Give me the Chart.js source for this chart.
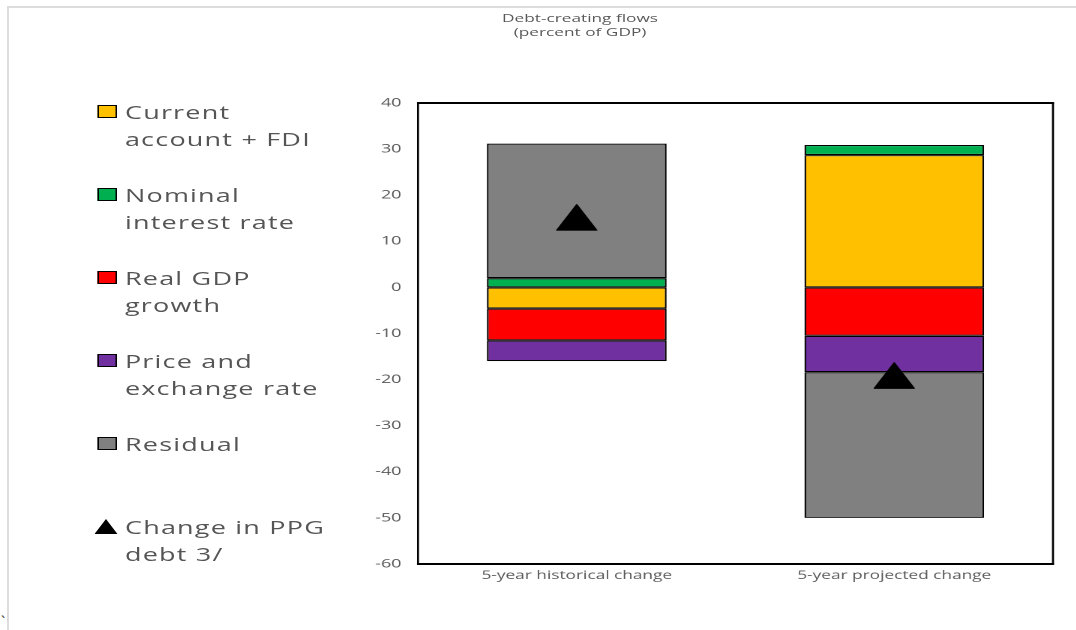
<!DOCTYPE html>
<html>
<head>
<meta charset="utf-8">
<script src="https://cdn.jsdelivr.net/npm/chart.js@4"></script>
<style>
  html, body { margin: 0; padding: 0; background: #fff; overflow: hidden; }
  body { width: 1076px; height: 630px; position: relative; font-family: "Open Sans", sans-serif; }
  #edge { position: absolute; left: 7px; top: 6px; right: 0; bottom: 0;
          border-top: 2px solid #dcdcdc; border-left: 2px solid #dcdcdc; }
  #tick { position: absolute; left: 1px; top: 611px; font-size: 15px; color: #333; }
  /* the whole figure is laid out on a narrow stage and widened 1.5x */
  #stage { position: absolute; left: 0; top: 0; width: 717.33px; height: 630px;
           transform: scaleX(1.5); transform-origin: 0 0; }
  #chart { position: absolute; left: 0; top: 0; }
  #title { position: absolute; top: 10.7px; left: 286.7px; width: 200px; text-align: center;
           font-size: 11.5px; line-height: 14.5px; color: #595959; }
  .item { position: absolute; left: 64.7px; width: 200px; height: 60px; }
  .sw { position: absolute; left: 0; top: 6.5px; width: 13.3px; height: 13px;
        box-sizing: border-box; border: 1.4px solid #000; }
  .tri { position: absolute; left: -1.4px; top: 5.2px; width: 15.3px; height: 15px; }
  .txt { position: absolute; left: 18.6px; top: 0; font-size: 18px; line-height: 27px;
         letter-spacing: 0.8px; color: #555; white-space: nowrap; }
</style>
</head>
<body>
<div id="edge"></div>
<span id="tick">`</span>
<div id="stage">
  <canvas id="chart" width="717" height="630"></canvas>
  <div id="title">Debt-creating flows<br>(percent of GDP)</div>
  <div id="legend"></div>
</div>
<script>
// Debt-creating flows, percent of GDP
const categories = ['5-year historical change', '5-year projected change'];
const currentAccountFdi = [-4.6, 28.7];
const nominalInterestRate = [2.0, 2.2];
const realGdpGrowth = [-6.9, -10.5];
const priceAndExchangeRate = [-4.5, -7.9];
const residual = [29.2, -31.6];
const changeInPpgDebt = [15.2, -19.1];

const yMin = -60;
const yMax = 40;
const yStep = 10;

const seriesNames = [
  ['Current', 'account + FDI'],
  ['Nominal', 'interest rate'],
  ['Real GDP', 'growth'],
  ['Price and', 'exchange rate'],
  ['Residual'],
  ['Change in PPG', 'debt 3/']
];
const seriesColors = ['#FFC000', '#00B050', '#FF0000', '#7030A0', '#808080', '#000000'];

// legend
const legendTops = [98.8, 181.8, 264.8, 347.8, 430.8, 513.8];
const legend = document.getElementById('legend');
seriesNames.forEach((lines, i) => {
  const item = document.createElement('div');
  item.className = 'item';
  item.style.top = legendTops[i] + 'px';
  if (i < 5) {
    const sw = document.createElement('div');
    sw.className = 'sw';
    sw.style.background = seriesColors[i];
    item.appendChild(sw);
  } else {
    item.insertAdjacentHTML('beforeend',
      '<svg class="tri" viewBox="0 0 15.3 15" preserveAspectRatio="none"><polygon points="7.65,0 15.3,15 0,15" fill="#000"/></svg>');
  }
  const txt = document.createElement('div');
  txt.className = 'txt';
  txt.innerHTML = lines.join('<br>');
  item.appendChild(txt);
  legend.appendChild(item);
});

// triangle marker for the debt change points
const marker = new Image(28, 27);
marker.src = 'data:image/svg+xml,' + encodeURIComponent(
  '<svg xmlns="http://www.w3.org/2000/svg" width="56" height="54" viewBox="0 0 28 27">' +
  '<polygon points="14,0.8 27.3,26.4 0.7,26.4" fill="#000" stroke="#000" stroke-width="1" stroke-linejoin="round"/></svg>');

// black box around the plot area
const plotFrame = {
  id: 'plotFrame',
  afterDraw(chart) {
    const { ctx, chartArea: a } = chart;
    ctx.save();
    ctx.strokeStyle = '#000';
    ctx.lineWidth = 2;
    ctx.beginPath();
    ctx.moveTo(a.left - 0.7, a.top); ctx.lineTo(a.right + 0.7, a.top);
    ctx.moveTo(a.left - 0.7, a.bottom); ctx.lineTo(a.right + 0.7, a.bottom);
    ctx.stroke();
    ctx.lineWidth = 1.35;
    ctx.beginPath();
    ctx.moveTo(a.left, a.top); ctx.lineTo(a.left, a.bottom);
    ctx.moveTo(a.right, a.top); ctx.lineTo(a.right, a.bottom);
    ctx.stroke();
    ctx.restore();
  }
};

const barBase = {
  type: 'bar',
  stack: 'flows',
  borderColor: '#000',
  borderWidth: 1.2,
  borderSkipped: false,
  barPercentage: 0.566,
  categoryPercentage: 1.0
};

const chart = new Chart(document.getElementById('chart'), {
  type: 'bar',
  data: {
    labels: categories,
    datasets: [
      {
        type: 'line', label: 'Change in PPG debt 3/', data: changeInPpgDebt,
        stack: 'debt', order: -1, showLine: false,
        pointStyle: marker, pointRadius: 14, pointHoverRadius: 14,
        backgroundColor: '#000', borderColor: '#000'
      },
      { ...barBase, label: 'Current account + FDI', data: currentAccountFdi, backgroundColor: seriesColors[0] },
      { ...barBase, label: 'Nominal interest rate', data: nominalInterestRate, backgroundColor: seriesColors[1] },
      { ...barBase, label: 'Real GDP growth', data: realGdpGrowth, backgroundColor: seriesColors[2] },
      { ...barBase, label: 'Price and exchange rate', data: priceAndExchangeRate, backgroundColor: seriesColors[3] },
      { ...barBase, label: 'Residual', data: residual, backgroundColor: seriesColors[4] }
    ]
  },
  options: {
    responsive: false,
    devicePixelRatio: 2,
    animation: false,
    layout: { padding: { left: 238.67, right: 13, top: 103, bottom: 36 } },
    plugins: { legend: { display: false }, title: { display: false }, tooltip: { enabled: false } },
    scales: {
      x: {
        stacked: true,
        grid: { display: false, drawTicks: false },
        border: { display: false },
        ticks: { color: '#595959', font: { family: '"Open Sans", sans-serif', size: 11.5 }, padding: 5, maxRotation: 0 },
        afterFit(s) { s.height = 30; }
      },
      y: {
        stacked: true,
        min: yMin, max: yMax,
        grid: { display: false, drawTicks: false },
        border: { display: false },
        ticks: { stepSize: yStep, color: '#595959', font: { family: '"Open Sans", sans-serif', size: 12 }, padding: 11 },
        afterFit(s) { s.width = 40; }
      }
    }
  },
  plugins: [plotFrame]
});

marker.onload = () => chart.update('none');
</script>
</body>
</html>
